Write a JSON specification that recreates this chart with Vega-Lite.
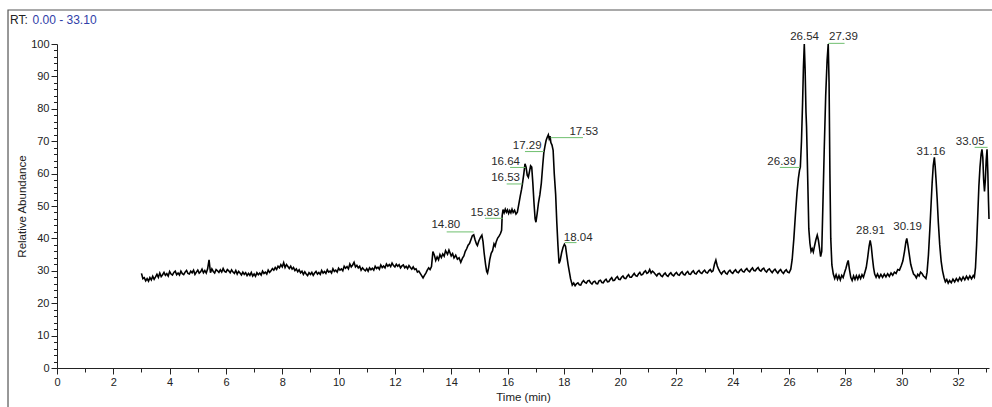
{
  "$schema": "https://vega.github.io/schema/vega-lite/v6.json",
  "autosize": "none",
  "width": 932,
  "height": 324,
  "padding": {"left": 57, "top": 44, "right": 3, "bottom": 39},
  "background": "white",
  "config": {
    "view": {"stroke": null},
    "font": "Liberation Sans",
    "axis": {
      "labelOverlap": false, "labelFlush": false, "labelBound": false,
      "grid": false,
      "domainColor": "#222222", "domainWidth": 1,
      "tickColor": "#222222", "tickWidth": 1,
      "labelFont": "Liberation Sans", "labelFontSize": 11, "labelColor": "#222222", "labelPadding": 2,
      "titleFont": "Liberation Sans", "titleFontSize": 11.5, "titleFontWeight": "normal", "titleColor": "#222222"
    }
  },
  "datasets": {
    "trace": [
      {"t":3.00,"v":29.2},{"t":3.05,"v":27.6},{"t":3.10,"v":27.9},{"t":3.15,"v":26.9},{"t":3.20,"v":27.6},{"t":3.25,"v":26.8},{"t":3.30,"v":27.9},{"t":3.35,"v":27.2},{"t":3.40,"v":28.3},{"t":3.45,"v":27.4},{"t":3.50,"v":28.1},
      {"t":3.55,"v":28.9},{"t":3.60,"v":28.0},{"t":3.65,"v":29.3},{"t":3.70,"v":28.2},{"t":3.75,"v":28.8},{"t":3.80,"v":29.5},{"t":3.85,"v":28.6},{"t":3.90,"v":29.1},{"t":3.95,"v":28.4},{"t":4.00,"v":29.8},{"t":4.05,"v":29.0},{"t":4.10,"v":28.7},{"t":4.15,"v":29.5},{"t":4.20,"v":29.9},{"t":4.25,"v":28.8},{"t":4.30,"v":29.3},{"t":4.35,"v":28.7},{"t":4.40,"v":29.9},{"t":4.45,"v":29.1},{"t":4.50,"v":28.8},
      {"t":4.55,"v":29.6},{"t":4.60,"v":30.1},{"t":4.65,"v":29.2},{"t":4.70,"v":29.0},{"t":4.75,"v":29.9},{"t":4.80,"v":29.4},{"t":4.85,"v":30.2},{"t":4.90,"v":28.9},{"t":4.95,"v":29.6},{"t":5.00,"v":30.2},{"t":5.05,"v":29.3},{"t":5.10,"v":29.7},{"t":5.15,"v":30.5},{"t":5.20,"v":29.4},{"t":5.25,"v":30.1},{"t":5.30,"v":29.3},{"t":5.35,"v":30.6},{"t":5.40,"v":33.4},
      {"t":5.45,"v":29.4},{"t":5.50,"v":30.6},{"t":5.55,"v":29.8},{"t":5.60,"v":29.3},{"t":5.65,"v":30.4},{"t":5.70,"v":30.0},{"t":5.75,"v":29.5},{"t":5.80,"v":30.3},{"t":5.85,"v":29.6},{"t":5.90,"v":30.7},{"t":5.95,"v":29.8},{"t":6.00,"v":29.6},{"t":6.05,"v":30.4},{"t":6.10,"v":30.0},{"t":6.15,"v":29.4},{"t":6.20,"v":30.3},{"t":6.25,"v":29.6},{"t":6.30,"v":29.2},{"t":6.35,"v":30.1},
      {"t":6.40,"v":29.0},{"t":6.45,"v":29.8},{"t":6.50,"v":29.3},{"t":6.55,"v":28.7},{"t":6.60,"v":29.6},{"t":6.65,"v":28.9},{"t":6.70,"v":29.4},{"t":6.75,"v":28.5},{"t":6.80,"v":29.2},{"t":6.85,"v":28.6},{"t":6.90,"v":29.5},{"t":6.95,"v":28.4},{"t":7.00,"v":29.0},{"t":7.05,"v":28.3},{"t":7.10,"v":29.4},{"t":7.15,"v":28.8},{"t":7.20,"v":29.3},{"t":7.25,"v":28.7},{"t":7.30,"v":29.9},
      {"t":7.35,"v":29.2},{"t":7.40,"v":29.6},{"t":7.45,"v":29.0},{"t":7.50,"v":30.2},{"t":7.55,"v":29.5},{"t":7.60,"v":30.0},{"t":7.65,"v":30.7},{"t":7.70,"v":30.2},{"t":7.75,"v":31.0},{"t":7.80,"v":30.4},{"t":7.85,"v":31.4},{"t":7.90,"v":30.9},{"t":7.95,"v":31.9},{"t":8.00,"v":31.2},{"t":8.05,"v":32.5},{"t":8.10,"v":31.0},{"t":8.15,"v":31.9},{"t":8.20,"v":31.3},
      {"t":8.25,"v":30.7},{"t":8.30,"v":31.4},{"t":8.35,"v":30.5},{"t":8.40,"v":31.0},{"t":8.45,"v":30.1},{"t":8.50,"v":30.6},{"t":8.55,"v":29.7},{"t":8.60,"v":30.3},{"t":8.65,"v":29.4},{"t":8.70,"v":29.9},{"t":8.75,"v":28.9},{"t":8.80,"v":29.7},{"t":8.85,"v":29.0},{"t":8.90,"v":28.5},{"t":8.95,"v":29.4},{"t":9.00,"v":28.9},{"t":9.05,"v":29.5},{"t":9.10,"v":28.6},{"t":9.15,"v":29.3},{"t":9.20,"v":29.8},
      {"t":9.25,"v":29.0},{"t":9.30,"v":29.5},{"t":9.35,"v":28.9},{"t":9.40,"v":30.1},{"t":9.45,"v":29.3},{"t":9.50,"v":29.8},{"t":9.55,"v":29.2},{"t":9.60,"v":30.3},{"t":9.65,"v":29.6},{"t":9.70,"v":29.9},{"t":9.75,"v":29.3},{"t":9.80,"v":30.6},{"t":9.85,"v":29.8},{"t":9.90,"v":30.2},{"t":9.95,"v":29.6},{"t":10.00,"v":30.8},{"t":10.05,"v":30.2},{"t":10.10,"v":30.6},{"t":10.15,"v":30.0},{"t":10.20,"v":31.4},
      {"t":10.25,"v":30.8},{"t":10.30,"v":31.3},{"t":10.35,"v":30.6},{"t":10.40,"v":32.1},{"t":10.45,"v":31.2},{"t":10.50,"v":31.8},{"t":10.55,"v":32.6},{"t":10.60,"v":31.2},{"t":10.65,"v":31.7},{"t":10.70,"v":30.9},{"t":10.75,"v":31.4},{"t":10.80,"v":30.2},{"t":10.85,"v":30.9},{"t":10.90,"v":30.4},{"t":10.95,"v":30.0},{"t":11.00,"v":30.7},{"t":11.05,"v":29.9},{"t":11.10,"v":30.9},
      {"t":11.15,"v":30.3},{"t":11.20,"v":30.8},{"t":11.25,"v":30.2},{"t":11.30,"v":31.4},{"t":11.35,"v":30.7},{"t":11.40,"v":31.1},{"t":11.45,"v":30.5},{"t":11.50,"v":31.8},{"t":11.55,"v":31.0},{"t":11.60,"v":31.5},{"t":11.65,"v":30.9},{"t":11.70,"v":32.1},{"t":11.75,"v":31.4},{"t":11.80,"v":31.9},{"t":11.85,"v":31.3},{"t":11.90,"v":32.4},{"t":11.95,"v":31.6},{"t":12.00,"v":31.2},{"t":12.05,"v":32.0},{"t":12.10,"v":31.4},
      {"t":12.15,"v":31.9},{"t":12.20,"v":30.9},{"t":12.25,"v":31.5},{"t":12.30,"v":31.8},{"t":12.35,"v":30.9},{"t":12.40,"v":31.4},{"t":12.45,"v":30.7},{"t":12.50,"v":31.6},{"t":12.55,"v":31.0},{"t":12.60,"v":30.5},{"t":12.65,"v":31.2},{"t":12.70,"v":30.4},{"t":12.75,"v":30.6},{"t":12.80,"v":29.6},{"t":12.85,"v":29.9},{"t":12.90,"v":29.2},{"t":12.95,"v":28.5},{"t":13.00,"v":27.8},{"t":13.05,"v":28.6},
      {"t":13.10,"v":29.3},{"t":13.15,"v":30.2},{"t":13.20,"v":30.9},{"t":13.25,"v":30.4},{"t":13.30,"v":31.3},{"t":13.35,"v":35.9},{"t":13.40,"v":34.9},{"t":13.45,"v":33.2},{"t":13.50,"v":34.3},{"t":13.55,"v":33.4},{"t":13.60,"v":35.0},{"t":13.65,"v":34.1},
      {"t":13.70,"v":35.2},{"t":13.75,"v":34.5},{"t":13.80,"v":36.2},{"t":13.87,"v":35.1},{"t":13.92,"v":36.4},{"t":14.00,"v":34.6},{"t":14.05,"v":35.3},{"t":14.10,"v":34.0},{"t":14.16,"v":34.8},{"t":14.22,"v":33.6},
      {"t":14.28,"v":34.0},{"t":14.34,"v":32.6},{"t":14.40,"v":33.9},{"t":14.45,"v":34.6},{"t":14.50,"v":36.0},{"t":14.55,"v":36.8},{"t":14.60,"v":37.9},{"t":14.65,"v":38.4},{"t":14.70,"v":39.6},{"t":14.75,"v":40.8},
      {"t":14.80,"v":41.1},{"t":14.85,"v":39.5},{"t":14.90,"v":38.2},{"t":14.93,"v":37.8},{"t":14.98,"v":39.2},{"t":15.04,"v":40.3},{"t":15.09,"v":41.0},{"t":15.13,"v":39.0},{"t":15.17,"v":35.5},{"t":15.22,"v":32.0},
      {"t":15.26,"v":29.8},{"t":15.29,"v":29.3},{"t":15.33,"v":31.0},{"t":15.37,"v":33.5},{"t":15.42,"v":35.4},{"t":15.47,"v":36.2},{"t":15.52,"v":38.3},{"t":15.56,"v":37.6},{"t":15.60,"v":39.0},{"t":15.65,"v":40.1},
      {"t":15.70,"v":40.7},{"t":15.75,"v":41.5},{"t":15.79,"v":42.5},{"t":15.81,"v":47.0},{"t":15.84,"v":48.9},{"t":15.88,"v":47.9},{"t":15.92,"v":49.0},{"t":15.96,"v":48.1},{"t":16.00,"v":48.8},{"t":16.04,"v":47.7},
      {"t":16.08,"v":48.6},{"t":16.12,"v":47.9},{"t":16.16,"v":49.0},{"t":16.20,"v":48.0},{"t":16.25,"v":48.7},{"t":16.30,"v":47.5},{"t":16.35,"v":48.1},{"t":16.40,"v":50.5},{"t":16.45,"v":53.0},{"t":16.50,"v":55.2},
      {"t":16.53,"v":56.8},{"t":16.58,"v":60.0},{"t":16.62,"v":63.0},{"t":16.66,"v":62.0},{"t":16.70,"v":59.5},{"t":16.74,"v":58.9},{"t":16.78,"v":60.6},{"t":16.82,"v":62.4},{"t":16.86,"v":62.0},{"t":16.90,"v":57.0},
      {"t":16.94,"v":51.0},{"t":16.98,"v":46.0},{"t":17.01,"v":45.0},{"t":17.05,"v":47.5},{"t":17.10,"v":51.0},{"t":17.15,"v":53.5},{"t":17.20,"v":57.0},{"t":17.25,"v":62.5},{"t":17.29,"v":66.5},{"t":17.33,"v":68.5},
      {"t":17.37,"v":70.2},{"t":17.41,"v":71.2},{"t":17.45,"v":72.0},{"t":17.48,"v":70.8},{"t":17.51,"v":71.6},{"t":17.54,"v":69.6},{"t":17.58,"v":68.8},{"t":17.62,"v":67.2},{"t":17.66,"v":60.0},{"t":17.71,"v":53.5},
      {"t":17.75,"v":45.0},{"t":17.79,"v":38.0},{"t":17.83,"v":32.3},{"t":17.87,"v":33.2},{"t":17.92,"v":35.5},{"t":17.97,"v":37.2},{"t":18.02,"v":38.2},{"t":18.06,"v":37.6},{"t":18.10,"v":35.0},{"t":18.15,"v":32.0},
      {"t":18.19,"v":30.0},{"t":18.24,"v":27.5},{"t":18.30,"v":25.6},{"t":18.35,"v":26.2},{"t":18.40,"v":25.4},{"t":18.45,"v":26.0},{"t":18.50,"v":26.3},{"t":18.55,"v":25.7},{"t":18.60,"v":25.6},{"t":18.65,"v":26.5},{"t":18.70,"v":27.0},{"t":18.75,"v":26.4},{"t":18.80,"v":26.2},{"t":18.85,"v":26.9},{"t":18.90,"v":27.0},
      {"t":18.95,"v":26.3},{"t":19.00,"v":25.9},{"t":19.05,"v":26.6},{"t":19.10,"v":26.8},{"t":19.15,"v":26.1},{"t":19.20,"v":26.0},{"t":19.25,"v":26.9},{"t":19.30,"v":27.1},{"t":19.35,"v":26.4},{"t":19.40,"v":26.3},{"t":19.45,"v":27.0},{"t":19.50,"v":27.4},{"t":19.55,"v":26.6},{"t":19.60,"v":26.7},{"t":19.65,"v":27.4},{"t":19.70,"v":27.9},{"t":19.75,"v":27.0},{"t":19.80,"v":27.1},{"t":19.85,"v":27.8},{"t":19.90,"v":28.2},
      {"t":19.95,"v":27.4},{"t":20.00,"v":27.3},{"t":20.05,"v":28.0},{"t":20.10,"v":28.4},{"t":20.15,"v":27.7},{"t":20.20,"v":27.6},{"t":20.25,"v":28.3},{"t":20.30,"v":28.8},{"t":20.35,"v":28.0},{"t":20.40,"v":28.0},{"t":20.45,"v":28.6},{"t":20.50,"v":29.2},{"t":20.55,"v":28.5},{"t":20.60,"v":28.3},{"t":20.65,"v":29.0},{"t":20.70,"v":29.5},{"t":20.75,"v":28.7},{"t":20.80,"v":28.9},{"t":20.85,"v":29.6},{"t":20.90,"v":30.0},
      {"t":20.95,"v":29.2},{"t":21.00,"v":29.5},{"t":21.05,"v":30.4},{"t":21.10,"v":29.3},{"t":21.15,"v":29.9},{"t":21.20,"v":29.5},{"t":21.25,"v":28.9},{"t":21.30,"v":28.4},{"t":21.35,"v":29.1},{"t":21.40,"v":29.2},{"t":21.45,"v":28.5},{"t":21.50,"v":28.2},{"t":21.55,"v":28.9},{"t":21.60,"v":29.3},{"t":21.65,"v":28.6},{"t":21.70,"v":28.3},{"t":21.75,"v":29.0},{"t":21.80,"v":29.4},
      {"t":21.85,"v":28.7},{"t":21.90,"v":28.4},{"t":21.95,"v":29.1},{"t":22.00,"v":29.5},{"t":22.05,"v":28.8},{"t":22.10,"v":28.6},{"t":22.15,"v":29.3},{"t":22.20,"v":29.7},{"t":22.25,"v":28.9},{"t":22.30,"v":28.7},{"t":22.35,"v":29.4},{"t":22.40,"v":29.8},{"t":22.45,"v":29.0},{"t":22.50,"v":28.9},{"t":22.55,"v":29.6},{"t":22.60,"v":30.0},{"t":22.65,"v":29.2},{"t":22.70,"v":29.0},
      {"t":22.75,"v":29.7},{"t":22.80,"v":30.1},{"t":22.85,"v":29.4},{"t":22.90,"v":29.2},{"t":22.95,"v":29.8},{"t":23.00,"v":30.2},{"t":23.05,"v":29.5},{"t":23.10,"v":29.3},{"t":23.15,"v":30.0},{"t":23.20,"v":30.4},{"t":23.25,"v":29.7},{"t":23.30,"v":30.0},{"t":23.35,"v":32.0},{"t":23.40,"v":33.3},{"t":23.45,"v":31.5},{"t":23.50,"v":30.4},{"t":23.55,"v":29.6},{"t":23.60,"v":29.0},
      {"t":23.65,"v":29.7},{"t":23.70,"v":30.0},{"t":23.75,"v":29.3},{"t":23.80,"v":29.0},{"t":23.85,"v":29.8},{"t":23.90,"v":30.2},{"t":23.95,"v":29.5},{"t":24.00,"v":29.2},{"t":24.05,"v":29.9},{"t":24.10,"v":30.3},{"t":24.15,"v":29.6},{"t":24.20,"v":29.4},{"t":24.25,"v":30.1},{"t":24.30,"v":30.5},{"t":24.35,"v":29.8},{"t":24.40,"v":29.6},{"t":24.45,"v":30.3},{"t":24.50,"v":30.7},
      {"t":24.55,"v":30.0},{"t":24.60,"v":29.7},{"t":24.65,"v":30.4},{"t":24.70,"v":30.9},{"t":24.75,"v":30.1},{"t":24.80,"v":30.0},{"t":24.85,"v":30.6},{"t":24.90,"v":31.0},{"t":24.95,"v":30.2},{"t":25.00,"v":29.9},{"t":25.05,"v":30.5},{"t":25.10,"v":30.8},{"t":25.15,"v":30.0},{"t":25.20,"v":29.6},{"t":25.25,"v":30.3},{"t":25.30,"v":30.6},{"t":25.35,"v":29.9},{"t":25.40,"v":29.4},
      {"t":25.45,"v":30.1},{"t":25.50,"v":30.5},{"t":25.55,"v":29.8},{"t":25.60,"v":29.3},{"t":25.65,"v":30.0},{"t":25.70,"v":30.4},{"t":25.75,"v":29.6},{"t":25.80,"v":29.2},{"t":25.85,"v":29.9},{"t":25.90,"v":30.3},{"t":25.95,"v":29.6},{"t":26.00,"v":29.4},{"t":26.06,"v":30.5},{"t":26.11,"v":33.5},{"t":26.17,"v":40.0},{"t":26.23,"v":48.0},{"t":26.28,"v":54.0},{"t":26.33,"v":58.5},
      {"t":26.37,"v":61.0},{"t":26.40,"v":62.0},{"t":26.44,"v":70.0},{"t":26.48,"v":82.0},{"t":26.51,"v":93.0},{"t":26.54,"v":100.0},{"t":26.57,"v":92.0},{"t":26.60,"v":79.0},{"t":26.62,"v":74.5},{"t":26.64,"v":67.0},
      {"t":26.67,"v":55.0},{"t":26.70,"v":43.0},{"t":26.74,"v":38.5},{"t":26.78,"v":36.0},{"t":26.82,"v":36.8},{"t":26.86,"v":35.8},{"t":26.90,"v":37.5},{"t":26.95,"v":39.5},{"t":27.00,"v":41.0},{"t":27.04,"v":39.5},
      {"t":27.08,"v":37.0},{"t":27.12,"v":34.4},{"t":27.16,"v":36.0},{"t":27.20,"v":50.0},{"t":27.25,"v":68.0},{"t":27.30,"v":84.0},{"t":27.35,"v":95.0},{"t":27.39,"v":100.0},{"t":27.42,"v":88.0},{"t":27.45,"v":60.0},
      {"t":27.48,"v":40.0},{"t":27.52,"v":31.8},{"t":27.57,"v":29.0},{"t":27.62,"v":27.6},{"t":27.67,"v":28.8},{"t":27.72,"v":27.4},{"t":27.77,"v":28.5},{"t":27.82,"v":27.2},{"t":27.87,"v":28.6},{"t":27.92,"v":27.9},
      {"t":27.97,"v":29.5},{"t":28.02,"v":30.8},{"t":28.07,"v":32.5},{"t":28.10,"v":33.2},{"t":28.14,"v":30.6},{"t":28.19,"v":28.0},{"t":28.24,"v":27.0},{"t":28.29,"v":28.4},{"t":28.34,"v":27.3},{"t":28.39,"v":28.5},
      {"t":28.44,"v":27.4},{"t":28.49,"v":28.6},{"t":28.54,"v":27.6},{"t":28.59,"v":28.8},{"t":28.64,"v":28.0},{"t":28.69,"v":29.5},{"t":28.74,"v":31.0},{"t":28.79,"v":34.0},{"t":28.84,"v":37.5},{"t":28.88,"v":39.4},
      {"t":28.92,"v":37.5},{"t":28.96,"v":34.0},{"t":29.00,"v":31.0},{"t":29.04,"v":29.0},{"t":29.09,"v":28.0},{"t":29.14,"v":29.0},{"t":29.20,"v":27.9},{"t":29.26,"v":28.9},{"t":29.32,"v":28.0},{"t":29.38,"v":29.0},
      {"t":29.44,"v":28.1},{"t":29.50,"v":29.1},{"t":29.56,"v":28.3},{"t":29.62,"v":29.3},{"t":29.68,"v":28.6},{"t":29.74,"v":29.6},{"t":29.80,"v":29.2},{"t":29.86,"v":30.4},{"t":29.92,"v":30.2},{"t":29.98,"v":31.5},
      {"t":30.04,"v":33.0},{"t":30.10,"v":36.0},{"t":30.15,"v":39.0},{"t":30.18,"v":40.0},{"t":30.22,"v":38.0},{"t":30.27,"v":35.0},{"t":30.32,"v":32.0},{"t":30.37,"v":30.4},{"t":30.42,"v":29.0},{"t":30.47,"v":28.6},
      {"t":30.52,"v":27.8},{"t":30.57,"v":28.9},{"t":30.62,"v":28.4},{"t":30.67,"v":29.6},{"t":30.72,"v":29.2},{"t":30.77,"v":28.4},{"t":30.82,"v":28.0},{"t":30.86,"v":27.6},{"t":30.90,"v":29.5},{"t":30.95,"v":35.0},
      {"t":31.00,"v":43.0},{"t":31.04,"v":50.0},{"t":31.08,"v":57.0},{"t":31.12,"v":62.5},{"t":31.16,"v":65.0},{"t":31.19,"v":62.0},{"t":31.22,"v":58.0},{"t":31.26,"v":52.0},{"t":31.30,"v":45.0},{"t":31.35,"v":38.0},
      {"t":31.40,"v":33.0},{"t":31.45,"v":30.0},{"t":31.50,"v":28.0},{"t":31.55,"v":26.6},{"t":31.60,"v":27.3},{"t":31.65,"v":26.2},{"t":31.70,"v":27.0},{"t":31.76,"v":26.3},{"t":31.82,"v":27.4},{"t":31.88,"v":26.6},
      {"t":31.94,"v":27.6},{"t":32.00,"v":26.8},{"t":32.06,"v":27.9},{"t":32.12,"v":27.0},{"t":32.18,"v":28.1},{"t":32.24,"v":27.2},{"t":32.30,"v":28.3},{"t":32.36,"v":27.4},{"t":32.42,"v":28.4},{"t":32.48,"v":27.5},
      {"t":32.54,"v":28.5},{"t":32.58,"v":28.0},{"t":32.62,"v":31.0},{"t":32.66,"v":38.0},{"t":32.70,"v":47.0},{"t":32.74,"v":56.0},{"t":32.78,"v":62.0},{"t":32.82,"v":66.0},{"t":32.85,"v":67.5},{"t":32.88,"v":65.0},
      {"t":32.91,"v":58.0},{"t":32.94,"v":54.5},{"t":32.97,"v":58.0},{"t":33.00,"v":64.0},{"t":33.03,"v":67.5},{"t":33.06,"v":60.0},{"t":33.08,"v":52.0},{"t":33.10,"v":46.0}
    ],
    "peaks": [
      {"label":"14.80","rt":14.80,"tx":13.81,"ty":44.1,"lx":13.84,"ly":42.0},
      {"label":"15.83","rt":15.83,"tx":15.20,"ty":47.9,"lx":15.20,"ly":46.2},
      {"label":"16.53","rt":16.53,"tx":15.93,"ty":58.5,"lx":15.97,"ly":56.8},
      {"label":"16.64","rt":16.64,"tx":15.93,"ty":63.7,"lx":16.09,"ly":61.9},
      {"label":"17.29","rt":17.29,"tx":16.70,"ty":68.6,"lx":16.62,"ly":66.8},
      {"label":"17.53","rt":17.53,"tx":18.71,"ty":72.9,"lx":18.68,"ly":71.1},
      {"label":"18.04","rt":18.04,"tx":18.51,"ty":40.2,"lx":18.45,"ly":38.7},
      {"label":"26.39","rt":26.39,"tx":25.74,"ty":63.7,"lx":25.67,"ly":61.9},
      {"label":"26.54","rt":26.54,"tx":26.55,"ty":102.3},
      {"label":"27.39","rt":27.39,"tx":27.93,"ty":102.2,"lx":27.97,"ly":100.2},
      {"label":"28.91","rt":28.91,"tx":28.89,"ty":42.4},
      {"label":"30.19","rt":30.19,"tx":30.21,"ty":43.4},
      {"label":"31.16","rt":31.16,"tx":31.04,"ty":66.8},
      {"label":"33.05","rt":33.05,"tx":32.43,"ty":69.8,"lx":32.59,"ly":68.1}
    ]
  },
  "layer": [
    {
      "data": {"name": "trace"},
      "mark": {"type": "line", "color": "black", "strokeWidth": 1.6, "interpolate": "linear"},
      "encoding": {
        "x": {
          "field": "t", "type": "quantitative",
          "scale": {"domain": [0, 33.1], "nice": false, "zero": false},
          "axis": {
            "title": "Time (min)", "titlePadding": 4, "tickCount": 200, "format": "d",
            "values": [0,0.5,1,1.5,2,2.5,3,3.5,4,4.5,5,5.5,6,6.5,7,7.5,8,8.5,9,9.5,10,10.5,11,11.5,12,12.5,13,13.5,14,14.5,15,15.5,16,16.5,17,17.5,18,18.5,19,19.5,20,20.5,21,21.5,22,22.5,23,23.5,24,24.5,25,25.5,26,26.5,27,27.5,28,28.5,29,29.5,30,30.5,31,31.5,32,32.5,33],
            "labelExpr": "datum.value % 2 === 0 ? datum.label : ''",
            "tickSize": {"condition": {"test": "datum.value % 2 === 0", "value": 6}, "value": 4}
          }
        },
        "y": {
          "field": "v", "type": "quantitative",
          "scale": {"domain": [0, 100], "nice": false},
          "axis": {
            "title": "Relative Abundance", "titlePadding": 3, "tickCount": 200, "format": "d",
            "values": [0,2,4,6,8,10,12,14,16,18,20,22,24,26,28,30,32,34,36,38,40,42,44,46,48,50,52,54,56,58,60,62,64,66,68,70,72,74,76,78,80,82,84,86,88,90,92,94,96,98,100],
            "labelExpr": "datum.value % 10 === 0 ? datum.label : ''",
            "tickSize": {"condition": {"test": "datum.value % 10 === 0", "value": 6}, "value": 3.5}
          }
        }
      }
    },
    {
      "data": {"values": [{}]},
      "mark": {"type": "rect", "fill": null, "stroke": "#555555", "strokeWidth": 1.2},
      "encoding": {
        "x": {"datum": -1.74, "type": "quantitative"},
        "x2": {"datum": 34.5},
        "y": {"datum": 110.5, "type": "quantitative"},
        "y2": {"datum": -20}
      }
    },
    {
      "data": {"name": "peaks"},
      "transform": [{"filter": "isValid(datum.lx)"}],
      "mark": {"type": "rule", "color": "#6fbf6f", "strokeWidth": 1},
      "encoding": {
        "x": {"field": "rt", "type": "quantitative"},
        "x2": {"field": "lx"},
        "y": {"field": "ly", "type": "quantitative"}
      }
    },
    {
      "data": {"name": "peaks"},
      "mark": {"type": "text", "font": "Liberation Sans", "fontSize": 11.5, "color": "#2a2a2a", "align": "center", "baseline": "middle"},
      "encoding": {
        "x": {"field": "tx", "type": "quantitative"},
        "y": {"field": "ty", "type": "quantitative"},
        "text": {"field": "label"}
      }
    },
    {
      "data": {"values": [{"part": "RT:"}]},
      "mark": {"type": "text", "font": "Liberation Sans", "fontSize": 12, "color": "#222222", "align": "left", "baseline": "middle"},
      "encoding": {
        "x": {"datum": -1.67, "type": "quantitative"},
        "y": {"datum": 107.4, "type": "quantitative"},
        "text": {"field": "part"}
      }
    },
    {
      "data": {"values": [{"part": "0.00 - 33.10"}]},
      "mark": {"type": "text", "font": "Liberation Sans", "fontSize": 12, "color": "#3040a8", "align": "left", "baseline": "middle"},
      "encoding": {
        "x": {"datum": -0.87, "type": "quantitative"},
        "y": {"datum": 107.4, "type": "quantitative"},
        "text": {"field": "part"}
      }
    }
  ]
}
